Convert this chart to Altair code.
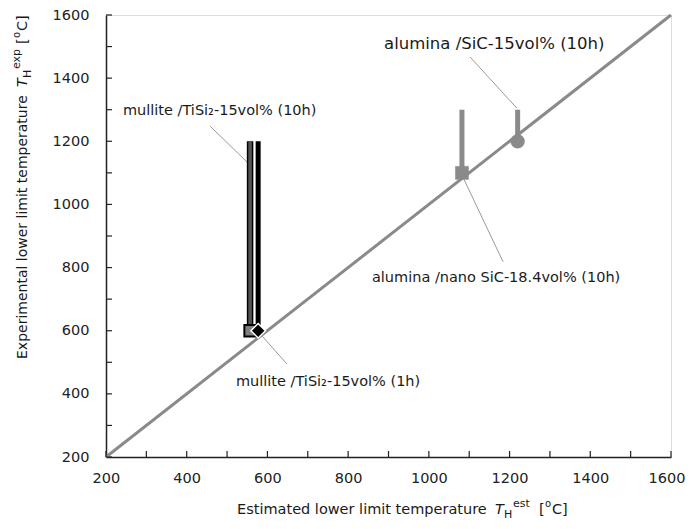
import altair as alt
import pandas as pd

# ---- data ----
series = ["mullite /TiSi\u2082-15vol% (10h)", "mullite /TiSi\u2082-15vol% (1h)",
          "alumina /nano SiC-18.4vol%  (10h)", "alumina /SiC-15vol% (10h)"]
t_est = [557, 577, 1082, 1220]
t_exp = [600, 600, 1100, 1200]
t_upper = [1200, 1200, 1300, 1300]

diag = [200, 1600]
major_ticks = [200, 400, 600, 800, 1000, 1200, 1400, 1600]
minor_ticks = [200, 300, 400, 500, 600, 700, 800, 900, 1000, 1100, 1200, 1300, 1400, 1500, 1600]

# annotation labels (data coordinates of label anchor) and leader lines
label_x = [242, 522, 859, 889]
label_y = [1296, 438, 767, 1508]
label_size = [14.5, 14.5, 14.5, 16.5]
lead_x1 = [458, 587, 1082, 1102]
lead_y1 = [1248, 583, 1093, 1467]
lead_x2 = [552, 648, 1184, 1218]
lead_y2 = [1131, 495, 818, 1305]

FONT = "DejaVu Sans"
W, H = 565, 442

pts = pd.DataFrame({"name": series, "est": t_est, "exp": t_exp, "up": t_upper})
diag_df = pd.DataFrame({"a": diag})
labels_df = pd.DataFrame({"name": series, "x": label_x, "y": label_y, "s": label_size})
lead_df = pd.DataFrame({"x1": lead_x1, "y1": lead_y1, "x2": lead_x2, "y2": lead_y2})
minor_df = pd.DataFrame({"v": minor_ticks})

xs = alt.Scale(domain=[200, 1600], nice=False, zero=False)
ys = alt.Scale(domain=[200, 1600], nice=False, zero=False)

common_axis = dict(values=major_ticks, title=None, grid=False, ticks=False, tickSize=0,
                   labelFontSize=14.5, labelFont=FONT, labelColor="#222", format="d",
                   labelOverlap=False, domainColor="#222", domainWidth=1.5)
xaxis = alt.Axis(labelPadding=14, labelFlush=True, labelFlushOffset=14, **common_axis)
yaxis = alt.Axis(labelPadding=17, labelFlush=False, **common_axis)

base_x = alt.X("a:Q", scale=xs, axis=xaxis)
base_y = alt.Y("a:Q", scale=ys, axis=yaxis)

diag_line = alt.Chart(diag_df).mark_line(color="#8a8a8a", strokeWidth=3).encode(x=base_x, y=base_y)

xtick = alt.Chart(minor_df).mark_rule(color="#222", strokeWidth=1.2).encode(
    x=alt.X("v:Q", scale=xs), y=alt.value(H), y2=alt.value(H - 6))
ytick = alt.Chart(minor_df).mark_rule(color="#222", strokeWidth=1.2).encode(
    y=alt.Y("v:Q", scale=ys), x=alt.value(0), x2=alt.value(6))

def sel(i):
    return pts.iloc[[i]]

enc = dict(x=alt.X("est:Q", scale=xs), y=alt.Y("exp:Q", scale=ys))
encbar = dict(x=alt.X("est:Q", scale=xs), y=alt.Y("exp:Q", scale=ys), y2="up:Q")

bar0_out = alt.Chart(sel(0)).mark_rule(color="#000", strokeWidth=6.5).encode(**encbar)
bar0_in = alt.Chart(sel(0)).mark_rule(color="#555", strokeWidth=3.5).encode(**encbar)
bar1 = alt.Chart(sel(1)).mark_rule(color="#000", strokeWidth=5).encode(**encbar)
bar2 = alt.Chart(sel(2)).mark_rule(color="#8a8a8a", strokeWidth=5).encode(**encbar)
bar3 = alt.Chart(sel(3)).mark_rule(color="#8a8a8a", strokeWidth=5).encode(**encbar)

m0 = alt.Chart(sel(0)).mark_point(shape="square", filled=True, fill="#808080", stroke="#000",
                                  strokeWidth=2, size=130, opacity=1).encode(**enc)
m1 = alt.Chart(sel(1)).mark_point(shape="diamond", filled=True, fill="#000", stroke="#fff",
                                  strokeWidth=1.5, size=210, opacity=1).encode(**enc)
m2 = alt.Chart(sel(2)).mark_point(shape="square", filled=True, fill="#8a8a8a", stroke="#8a8a8a",
                                  strokeWidth=0.5, size=170, opacity=1).encode(**enc)
m3 = alt.Chart(sel(3)).mark_point(shape="circle", filled=True, fill="#8a8a8a", stroke="#8a8a8a",
                                  strokeWidth=0.5, size=190, opacity=1).encode(**enc)

leaders = alt.Chart(lead_df).mark_rule(color="#9a9a9a", strokeWidth=1).encode(
    x=alt.X("x1:Q", scale=xs), y=alt.Y("y1:Q", scale=ys), x2="x2:Q", y2="y2:Q")

labels = alt.Chart(labels_df).mark_text(align="left", baseline="middle", font=FONT,
                                        color="#1a1a1a").encode(
    x=alt.X("x:Q", scale=xs), y=alt.Y("y:Q", scale=ys), text="name:N",
    size=alt.Size("s:Q", scale=None, legend=None))

# ---- axis titles composed of pieces (sub/superscripts) ----
def piece(text, x, y, size=14.5, angle=0, style="normal"):
    return alt.Chart(diag_df.iloc[[0]]).mark_text(
        text=text, align="left", baseline="alphabetic", font=FONT, fontSize=size,
        angle=angle, fontStyle=style, color="#1a1a1a").encode(x=alt.value(x), y=alt.value(y))

XB = 499
xt = [
    piece("Estimated lower limit temperature", 131, XB),
    piece("T", 389, XB, style="italic"),
    piece("H", 398, XB + 4, size=11),
    piece("est", 407, XB - 7, size=11),
    piece("[", 433, XB),
    piece("o", 439, XB - 7, size=10),
    piece("C]", 446, XB),
]
YB = -79
yt = [
    piece("Experimental lower limit temperature", YB, 344, size=14, angle=270),
    piece("T", YB, 72, angle=270, style="italic"),
    piece("H", YB + 4, 63, size=11, angle=270),
    piece("exp", YB - 7, 54, size=11, angle=270),
    piece("[", YB, 29, angle=270),
    piece("o", YB - 7, 23, size=10, angle=270),
    piece("C]", YB, 16, angle=270),
]

chart = alt.layer(
    diag_line, xtick, ytick, leaders,
    bar0_out, bar0_in, bar1, bar2, bar3,
    m0, m1, m2, m3, labels, *xt, *yt
).properties(
    width=W, height=H,
    padding={"left": 98, "top": 7, "right": 15, "bottom": 64},
    autosize=alt.AutoSizeParams(type="none"),
).configure_view(stroke="#222", strokeWidth=1.5).configure(background="white")

chart.save("out.html", embed_options={"renderer": "svg", "actions": False})
